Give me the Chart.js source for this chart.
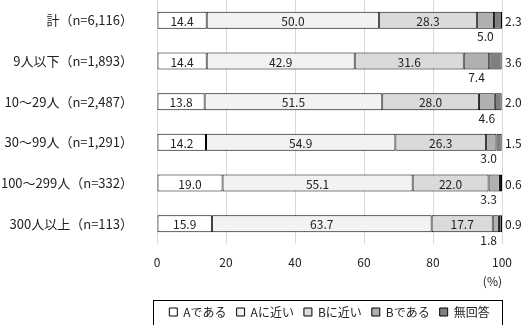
<!DOCTYPE html>
<html lang="ja">
<head>
<meta charset="utf-8">
<title>chart</title>
<script src="https://cdn.jsdelivr.net/npm/chart.js@4.4.1/dist/chart.umd.min.js"></script>
<style>
  html, body { margin: 0; padding: 0; background: #fff; }
  canvas { display: block; }
</style>
</head>
<body>
<canvas id="myChart" width="523" height="325"></canvas>
<script>
// categories and series (%)
var categorias = ['計（n=6,116）', '9人以下（n=1,893）', '10～29人（n=2,487）', '30～99人（n=1,291）', '100～299人（n=332）', '300人以上（n=113）'];
var serieNombres = ['Aである', 'Aに近い', 'Bに近い', 'Bである', '無回答'];
var aDearu = [14.4, 14.4, 13.8, 14.2, 19.0, 15.9];
var aNiChikai = [50.0, 42.9, 51.5, 54.9, 55.1, 63.7];
var bNiChikai = [28.3, 31.6, 28.0, 26.3, 22.0, 17.7];
var bDearu = [5.0, 7.4, 4.6, 3.0, 3.3, 1.8];
var muKaito = [2.3, 3.6, 2.0, 1.5, 0.6, 0.9];
var ticksX = [0, 20, 40, 60, 80, 100];

var colores = ['#ffffff', '#f2f2f2', '#dadada', '#b0b0b0', '#7f7f7f'];
var fuente = '"Noto Sans CJK JP", "Noto Sans", sans-serif';
var colorTexto = '#222';
var legendPad = 10;

Chart.defaults.font.family = fuente;
Chart.defaults.font.size = 12;
Chart.defaults.color = colorTexto;

// etiquetas de valores
var etiquetasPlugin = {
  id: 'etiquetas',
  afterLayout: function(chart){
    // bajar un poco la leyenda
    chart.legend.top += 3;
    chart.legend.bottom += 3;
  },
  afterDatasetsDraw: function(chart){
    var ctx = chart.ctx;
    var area = chart.chartArea;
    ctx.save();
    ctx.font = '12px ' + fuente;
    ctx.fillStyle = colorTexto;
    chart.data.datasets.forEach(function(ds, i){
      var meta = chart.getDatasetMeta(i);
      meta.data.forEach(function(bar, j){
        var p = bar.getProps(['x', 'y', 'base', 'height'], true);
        var txt = ds.data[j].toFixed(1);
        if (i < 3) {
          ctx.textAlign = 'center';
          ctx.textBaseline = 'middle';
          ctx.fillText(txt, (p.x + p.base) / 2, p.y + 1);
        } else if (i === 3) {
          var w = ctx.measureText(txt).width;
          var cx = (p.x + p.base) / 2;
          if (cx + w / 2 > area.right - 5) cx = area.right - 5 - w / 2;
          ctx.textAlign = 'center';
          ctx.textBaseline = 'middle';
          ctx.fillText(txt, cx, p.y + p.height / 2 + 8);
        } else {
          ctx.textAlign = 'left';
          ctx.textBaseline = 'middle';
          ctx.fillText(txt, area.right + 3, p.y + 1);
        }
      });
    });
    ctx.restore();
  },
  afterDraw: function(chart){
    // marco de la leyenda
    var hb = chart.legend.legendHitBoxes;
    if (!hb || !hb.length) return;
    var first = hb[0], last = hb[hb.length - 1];
    var cy = chart.legend.top + legendPad + 6;
    var ctx = chart.ctx;
    ctx.save();
    ctx.strokeStyle = '#000';
    ctx.lineWidth = 1;
    ctx.strokeRect(Math.round(first.left - 16) + 0.5, Math.round(cy - 12.5) + 0.5,
      Math.round(last.left + last.width + 13 - (first.left - 16)), 25);
    ctx.restore();
  }
};

var series = [aDearu, aNiChikai, bNiChikai, bDearu, muKaito];
var datasets = series.map(function(valores, i){
  return {
    label: serieNombres[i],
    data: valores,
    backgroundColor: colores[i],
    borderColor: '#000',
    borderWidth: 1,
    borderSkipped: false,
    barPercentage: 0.42,
    categoryPercentage: 1
  };
});

var myChart = document.getElementById('myChart').getContext('2d');
var barChart = new Chart(myChart, {
  type: 'bar',
  data: { labels: categorias, datasets: datasets },
  options: {
    indexAxis: 'y',
    responsive: false,
    animation: false,
    layout: { padding: { left: 0, right: 0, top: 0, bottom: 0 } },
    plugins: {
      legend: {
        position: 'bottom',
        fullSize: false,
        labels: {
          boxWidth: 8,
          boxHeight: 8,
          padding: legendPad,
          color: colorTexto,
          font: { size: 12 }
        }
      },
      tooltip: { enabled: false }
    },
    scales: {
      x: {
        stacked: true,
        min: 0,
        max: 100,
        afterBuildTicks: function(scale){
          scale.ticks = ticksX.map(function(v){ return { value: v }; });
        },
        afterFit: function(scale){ scale.height = 49; },
        grid: { color: '#d9d9d9', drawTicks: false },
        border: { display: false },
        ticks: { padding: 11, color: colorTexto, font: { size: 12 } },
        title: { display: true, text: '(%)', align: 'end', padding: { top: 2, bottom: 4 }, color: colorTexto, font: { size: 12 } }
      },
      y: {
        stacked: true,
        afterFit: function(scale){
          scale.width = 157;
          scale.paddingTop = 0;
          scale.paddingBottom = 0;
        },
        grid: { display: false, drawTicks: false },
        border: { display: false },
        ticks: { padding: 24, color: colorTexto, font: { size: 13 } }
      }
    }
  },
  plugins: [etiquetasPlugin]
});
</script>
</body>
</html>
